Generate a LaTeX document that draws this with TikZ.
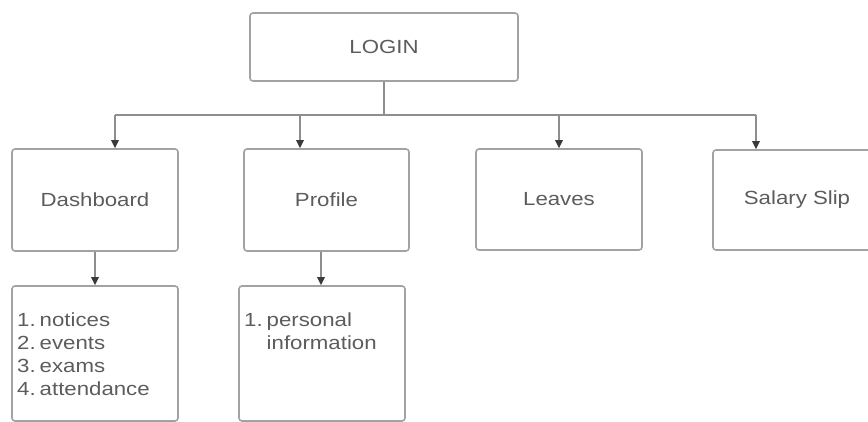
\documentclass[tikz,border=0pt]{standalone}
\usepackage{fontspec}
\setmainfont[FakeStretch=1.17]{Liberation Sans}
\usetikzlibrary{arrows.meta}
\definecolor{boxline}{HTML}{A2A2A2}
\definecolor{conline}{HTML}{8E8E8E}
\definecolor{tipcol}{HTML}{3A3A3A}
\definecolor{txt}{HTML}{5C5C5C}
\begin{document}
\begin{tikzpicture}[x=1pt,y=-1pt,
  box/.style={draw=boxline,line width=1.6pt,rounded corners=3pt,inner sep=0pt,
    text=txt,font=\fontsize{19}{23}\selectfont},
  con/.style={draw=conline,line width=1.5pt},
  arr/.style={con,-{Triangle[length=8pt,width=7.5pt,color=tipcol]}},
  lst/.style={anchor=north west,inner sep=0pt,text=txt,font=\fontsize{19}{23}\selectfont,align=left}]
\useasboundingbox (0,0) rectangle (868,422);
\clip (0,0) rectangle (868,422);
% top level
\node[box,minimum width=268pt,minimum height=68pt] (login) at (384,47) {LOGIN};
\node[box,minimum width=166pt,minimum height=102pt] (dash) at (95,200) {Dashboard};
\node[box,minimum width=165pt,minimum height=102pt] (prof) at (326.5,200) {Profile};
\node[box,minimum width=166pt,minimum height=101pt] (leav) at (559,199.5) {Leaves};
\node[box,minimum width=168pt,minimum height=100pt] (sal) at (797,200) {Salary Slip};
% sub boxes
\node[box,minimum width=166pt,minimum height=135pt] (dsub) at (95,353.5) {};
\node[box,minimum width=166pt,minimum height=135pt] (psub) at (322,353.5) {};
\node[lst] (dlist) at (17,310) {\begin{tabular}{@{}l@{\hspace{4pt}}l@{}}1.&notices\\2.&events\\3.&exams\\4.&attendance\end{tabular}};
\node[lst] (plist) at (244,310) {\begin{tabular}{@{}l@{\hspace{4pt}}l@{}}1.&personal\\&information\end{tabular}};
% connectors
\coordinate (stem) at (384,115);
\coordinate (j1) at (115,115);
\coordinate (j2) at (300,115);
\coordinate (j3) at (559,115);
\coordinate (j4) at (756,115);
\draw[con] (login.south) -- (stem);
\draw[con] (j1) -- (j4);
\draw[arr] (j1) -- (j1 |- dash.north);
\draw[arr] (j2) -- (j2 |- prof.north);
\draw[arr] (j3) -- (j3 |- leav.north);
\draw[arr] (j4) -- (j4 |- sal.north);
\coordinate (d1) at (95,252);
\coordinate (p1) at (321,252);
\draw[arr] (d1) -- (d1 |- dsub.north);
\draw[arr] (p1) -- (p1 |- psub.north);
\end{tikzpicture}
\end{document}
